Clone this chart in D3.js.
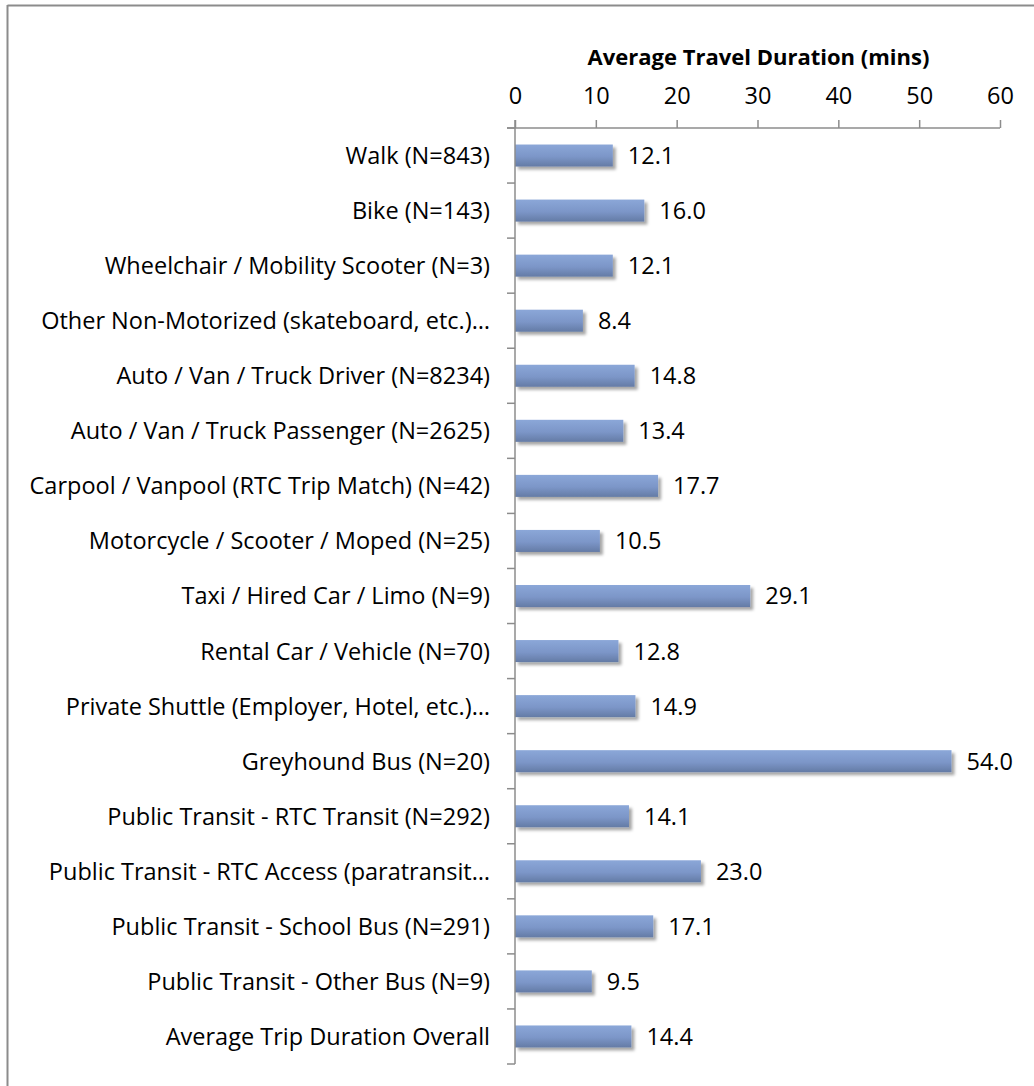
<!DOCTYPE html>
<html lang="en">
<head>
  <meta charset="UTF-8">
  <title>Average Travel Duration by Mode</title>
  <style>
  body { margin: 0; background: #fff; }
  text { font-family: "Open Sans", Lato, sans-serif; fill: #000; }
  </style>
</head>
<body>
<script src="https://d3js.org/d3.v7.min.js"></script>
<script>
var categories = [
  "Walk (N=843)",
  "Bike (N=143)",
  "Wheelchair / Mobility Scooter (N=3)",
  "Other Non-Motorized (skateboard, etc.)…",
  "Auto / Van / Truck Driver (N=8234)",
  "Auto / Van / Truck Passenger (N=2625)",
  "Carpool / Vanpool (RTC Trip Match) (N=42)",
  "Motorcycle / Scooter / Moped (N=25)",
  "Taxi / Hired Car / Limo (N=9)",
  "Rental Car / Vehicle (N=70)",
  "Private Shuttle (Employer, Hotel, etc.)…",
  "Greyhound Bus (N=20)",
  "Public Transit - RTC Transit (N=292)",
  "Public Transit - RTC Access (paratransit…",
  "Public Transit - School Bus (N=291)",
  "Public Transit - Other Bus (N=9)",
  "Average Trip Duration Overall"
];
var values = [12.1, 16.0, 12.1, 8.4, 14.8, 13.4, 17.7, 10.5, 29.1, 12.8, 14.9, 54.0, 14.1, 23.0, 17.1, 9.5, 14.4];
var xTicks = [0, 10, 20, 30, 40, 50, 60];
var axisTitle = "Average Travel Duration (mins)";

var width = 1034;
var height = 1086;
var plotLeft = 515, plotRight = 1000, plotTop = 128, plotBottom = 1064;
var fontSize = 23.5;

var svg = d3.select("body").append("svg").attr("width", width).attr("height", height);

// chart frame (only top and left edges visible)
svg.append("line").attr("x1", 7.5).attr("x2", width).attr("y1", 5.5).attr("y2", 5.5)
  .attr("stroke", "#8c8c8c").attr("stroke-width", 2);
svg.append("line").attr("x1", 7.5).attr("x2", 7.5).attr("y1", 5).attr("y2", height)
  .attr("stroke", "#8c8c8c").attr("stroke-width", 2);

var defs = svg.append("defs");
var grad = defs.append("linearGradient").attr("id", "barGrad")
  .attr("x1", 0).attr("x2", 0).attr("y1", 0).attr("y2", 1);
grad.append("stop").attr("offset", "0%").attr("stop-color", "#8ba7d8");
grad.append("stop").attr("offset", "55%").attr("stop-color", "#7c96c8");
grad.append("stop").attr("offset", "100%").attr("stop-color", "#647ba5");

var shadow = defs.append("filter").attr("id", "shadow")
  .attr("x", "-5%").attr("y", "-30%").attr("width", "115%").attr("height", "180%");
shadow.append("feDropShadow").attr("dx", 3).attr("dy", 3).attr("stdDeviation", 1.6)
  .attr("flood-color", "#000").attr("flood-opacity", 0.35);

var xScale = d3.scaleLinear().domain([0, 60]).range([plotLeft, plotRight]);
var yScale = d3.scaleBand().domain(categories).range([plotTop, plotBottom]).paddingInner(0.6).paddingOuter(0.3);

// bars
svg.selectAll("rect.bar").data(values).enter().append("rect")
  .attr("class", "bar")
  .attr("x", xScale(0))
  .attr("y", function(d, i) { return yScale(categories[i]); })
  .attr("width", function(d) { return xScale(d) - xScale(0); })
  .attr("height", yScale.bandwidth())
  .attr("fill", "url(#barGrad)")
  .attr("filter", "url(#shadow)");

// value labels
svg.selectAll("text.val").data(values).enter().append("text")
  .attr("class", "val")
  .attr("x", function(d) { return xScale(d) + 15; })
  .attr("y", function(d, i) { return yScale(categories[i]) + yScale.bandwidth() / 2; })
  .attr("dy", "0.36em")
  .attr("font-size", fontSize)
  .text(function(d) { return d.toFixed(1); });

// top axis
var axisx = d3.axisTop(xScale).tickValues(xTicks).tickSize(8).tickPadding(16);
var gx = svg.append("g").attr("transform", "translate(0," + plotTop + ")").call(axisx);
gx.select(".domain").attr("stroke", "#8c8c8c").attr("stroke-width", 1.5)
  .attr("d", "M" + (plotLeft - 8) + ",0H" + plotRight);
gx.selectAll(".tick line").attr("stroke", "#8c8c8c").attr("stroke-width", 1.5);
gx.selectAll(".tick text").attr("font-size", fontSize).attr("font-family", "'Open Sans', Lato, sans-serif")
  .attr("fill", "#000").attr("dy", "0em");

svg.append("text")
  .attr("x", (plotLeft + plotRight) / 2 + 1).attr("y", 65)
  .attr("text-anchor", "middle").attr("font-size", 22).attr("font-weight", "bold")
  .text(axisTitle);

// left axis with ticks between categories
var boundaries = categories.map(function(c) { return yScale(c) - yScale.step() * yScale.paddingInner() / 2; });
boundaries.push(plotBottom);
var gy = svg.append("g");
gy.append("line").attr("x1", plotLeft).attr("x2", plotLeft).attr("y1", plotTop - 8).attr("y2", plotBottom)
  .attr("stroke", "#8c8c8c").attr("stroke-width", 1.5);
gy.selectAll("line.tk").data(boundaries).enter().append("line")
  .attr("class", "tk")
  .attr("x1", plotLeft - 8).attr("x2", plotLeft)
  .attr("y1", function(d) { return d; }).attr("y2", function(d) { return d; })
  .attr("stroke", "#8c8c8c").attr("stroke-width", 1.5);

svg.selectAll("text.cat").data(categories).enter().append("text")
  .attr("class", "cat")
  .attr("x", plotLeft - 25)
  .attr("y", function(d) { return yScale(d) + yScale.bandwidth() / 2; })
  .attr("dy", "0.36em")
  .attr("text-anchor", "end")
  .attr("font-size", fontSize)
  .text(function(d) { return d; });
</script>
</body>
</html>
